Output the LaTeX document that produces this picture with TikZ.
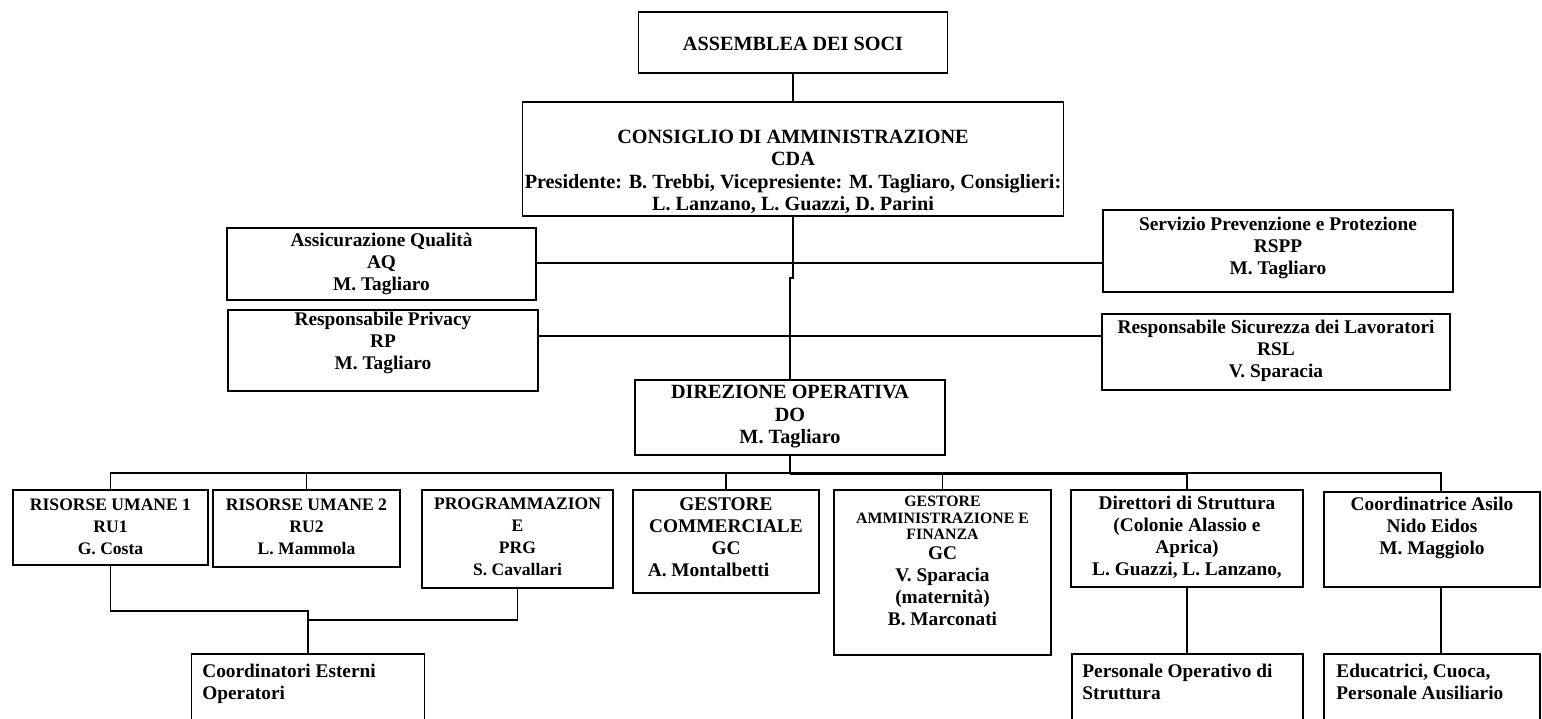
\documentclass[tikz,border=0pt]{standalone}
\usepackage{fontspec}
\setmainfont{Liberation Serif}

\begin{document}
\begin{tikzpicture}[x=0.02cm,y=-0.02cm,
  box/.style={draw,line width=0.8pt,inner sep=0pt},
  txt/.style={align=center,inner sep=0pt,font=\bfseries\fontsize{11}{12.5}\selectfont},
  btxt/.style={align=center,inner sep=0pt,font=\bfseries\fontsize{11.5}{12.8}\selectfont},
  stxt/.style={align=center,inner sep=0pt,font=\bfseries\fontsize{10}{12.5}\selectfont},
  ltxt/.style={align=left,inner sep=0pt,anchor=north west,font=\bfseries\fontsize{11}{12.5}\selectfont},
  conn/.style={line width=0.8pt},
  thickbus/.style={line width=1.8pt}]

   \path[use as bounding box] (0,0) rectangle (1542,718);
   \clip (0,0) rectangle (1542,718);

   % boxes
   \node[box,minimum width=6.18cm,minimum height=1.22cm] (soci) at (793,42.5) {};
   \node[box,minimum width=10.82cm,minimum height=2.28cm] (cda) at (793,159) {};
   \node[box,minimum width=6.18cm,minimum height=1.44cm] (aq) at (381.5,264) {};
   \node[box,minimum width=6.2cm,minimum height=1.62cm] (rp) at (383,350.5) {};
   \node[box,minimum width=7cm,minimum height=1.64cm] (rspp) at (1278,251) {};
   \node[box,minimum width=6.96cm,minimum height=1.52cm] (rsl) at (1276,352) {};
   \node[box,minimum width=6.2cm,minimum height=1.5cm] (do) at (790,417.5) {};
   \node[box,minimum width=3.9cm,minimum height=1.5cm] (ru1) at (110.5,527.5) {};
   \node[box,minimum width=3.74cm,minimum height=1.54cm] (ru2) at (306.5,528.5) {};
   \node[box,minimum width=3.82cm,minimum height=1.96cm] (prg) at (517.5,539) {};
   \node[box,minimum width=3.72cm,minimum height=2.06cm] (gc) at (726,541.5) {};
   \node[box,minimum width=4.34cm,minimum height=3.3cm] (gaf) at (942.5,572.5) {};
   \node[box,minimum width=4.64cm,minimum height=1.94cm] (dir) at (1187,538.5) {};
   \node[box,minimum width=4.32cm,minimum height=1.9cm] (coord) at (1432,539.5) {};
   \node[box,minimum width=4.66cm,minimum height=1.82cm] (est) at (308,699.5) {};
   \node[box,minimum width=4.62cm,minimum height=1.82cm] (pers) at (1187.5,699.5) {};
   \node[box,minimum width=4.32cm,minimum height=1.82cm] (edu) at (1432,699.5) {};

   % texts
   \node[btxt] (soci-t) at (793,44) {ASSEMBLEA DEI SOCI};
   \node[btxt] (cda-t) at (793,172) {CONSIGLIO DI AMMINISTRAZIONE\\CDA\\Presidente: B. Trebbi, Vicepresiente: M. Tagliaro, Consiglieri:\\L. Lanzano, L. Guazzi, D. Parini};
   \node[txt] (aq-t) at (381.5,264) {Assicurazione Qualità\\AQ\\M. Tagliaro};
   \node[txt] (rp-t) at (383,343) {Responsabile Privacy\\RP\\M. Tagliaro};
   \node[txt] (rspp-t) at (1278,248) {Servizio Prevenzione e Protezione\\RSPP\\M. Tagliaro};
   \node[txt] (rsl-t) at (1276,351) {Responsabile Sicurezza dei Lavoratori\\RSL\\V. Sparacia};
   \node[btxt] (do-t) at (790,417) {DIREZIONE OPERATIVA\\DO\\M. Tagliaro};
   \node[stxt] (ru1-t) at (110.5,527) {RISORSE UMANE 1\\RU1\\G. Costa};
   \node[stxt] (ru2-t) at (306.5,527) {RISORSE UMANE 2\\RU2\\L. Mammola};
   \node[stxt] (prg-t) at (517.5,537) {PROGRAMMAZION\\E\\PRG\\S. Cavallari};
   \node[txt] (gc-t) at (726,537) {GESTORE\\COMMERCIALE\\GC\\A. Montalbetti\hspace*{0.7cm}};
   \node[txt] (gaf-t) at (942.5,561) {{\fontsize{9}{10.5}\selectfont GESTORE}\\[-3pt]{\fontsize{9}{10.5}\selectfont AMMINISTRAZIONE E}\\[-3pt]{\fontsize{9}{10.5}\selectfont FINANZA}\\[-1pt]GC\\V. Sparacia\\(maternità)\\B. Marconati};
   \node[txt] (dir-t) at (1187,537) {Direttori di Struttura\\(Colonie Alassio e\\Aprica)\\L. Guazzi, L. Lanzano,};
   \node[txt] (coord-t) at (1432,528) {Coordinatrice Asilo\\Nido Eidos\\M. Maggiolo};
   \node[ltxt] (est-t) at (202,664) {Coordinatori Esterni\\Operatori};
   \node[ltxt] (pers-t) at (1082,664) {Personale Operativo di\\Struttura};
   \node[ltxt] (edu-t) at (1336,664) {Educatrici, Cuoca,\\Personale Ausiliario};

   % connectors
   \coordinate (jog) at (0,278);
   \coordinate (qline) at (0,263);
   \coordinate (pline) at (0,336);
   \coordinate (bus) at (0,473);
   \coordinate (tbus) at (0,473.8);
   \coordinate (cst) at (1441,473);
   \coordinate (ja) at (0,611);
   \coordinate (jb) at (0,620);

   \draw[conn] (soci) -- (cda);
   \draw[conn] (cda.south) -- (cda.south |- jog) -- (do.north |- jog) -- (do.north);
   \draw[conn] (aq.east |- qline) -- (rspp.west |- qline);
   \draw[conn] (rp.east |- pline) -- (rsl.west |- pline);

   \draw[conn] (ru1.north) -- (ru1.north |- bus) -- (cst) -- (cst |- coord.north);
   \draw[conn] (ru2.north) -- (ru2.north |- bus);
   \draw[conn] (gc.north) -- (gc.north |- bus);
   \draw[conn] (gaf.north) -- (gaf.north |- bus);
   \draw[conn] (dir.north) -- (dir.north |- bus);
   \draw[conn] (do.south) -- (do.south |- bus);
   \draw[thickbus] (do.south |- tbus) -- (dir.north |- tbus);

   \draw[conn] (ru1.south) -- (ru1.south |- ja) -- (est.north |- ja) -- (est.north);
   \draw[conn] (prg.south) -- (prg.south |- jb) -- (est.north |- jb);
   \draw[conn] (dir.south) -- (dir.south |- pers.north);
   \draw[conn] (cst |- coord.south) -- (cst |- edu.north);

\end{tikzpicture}
\end{document}
